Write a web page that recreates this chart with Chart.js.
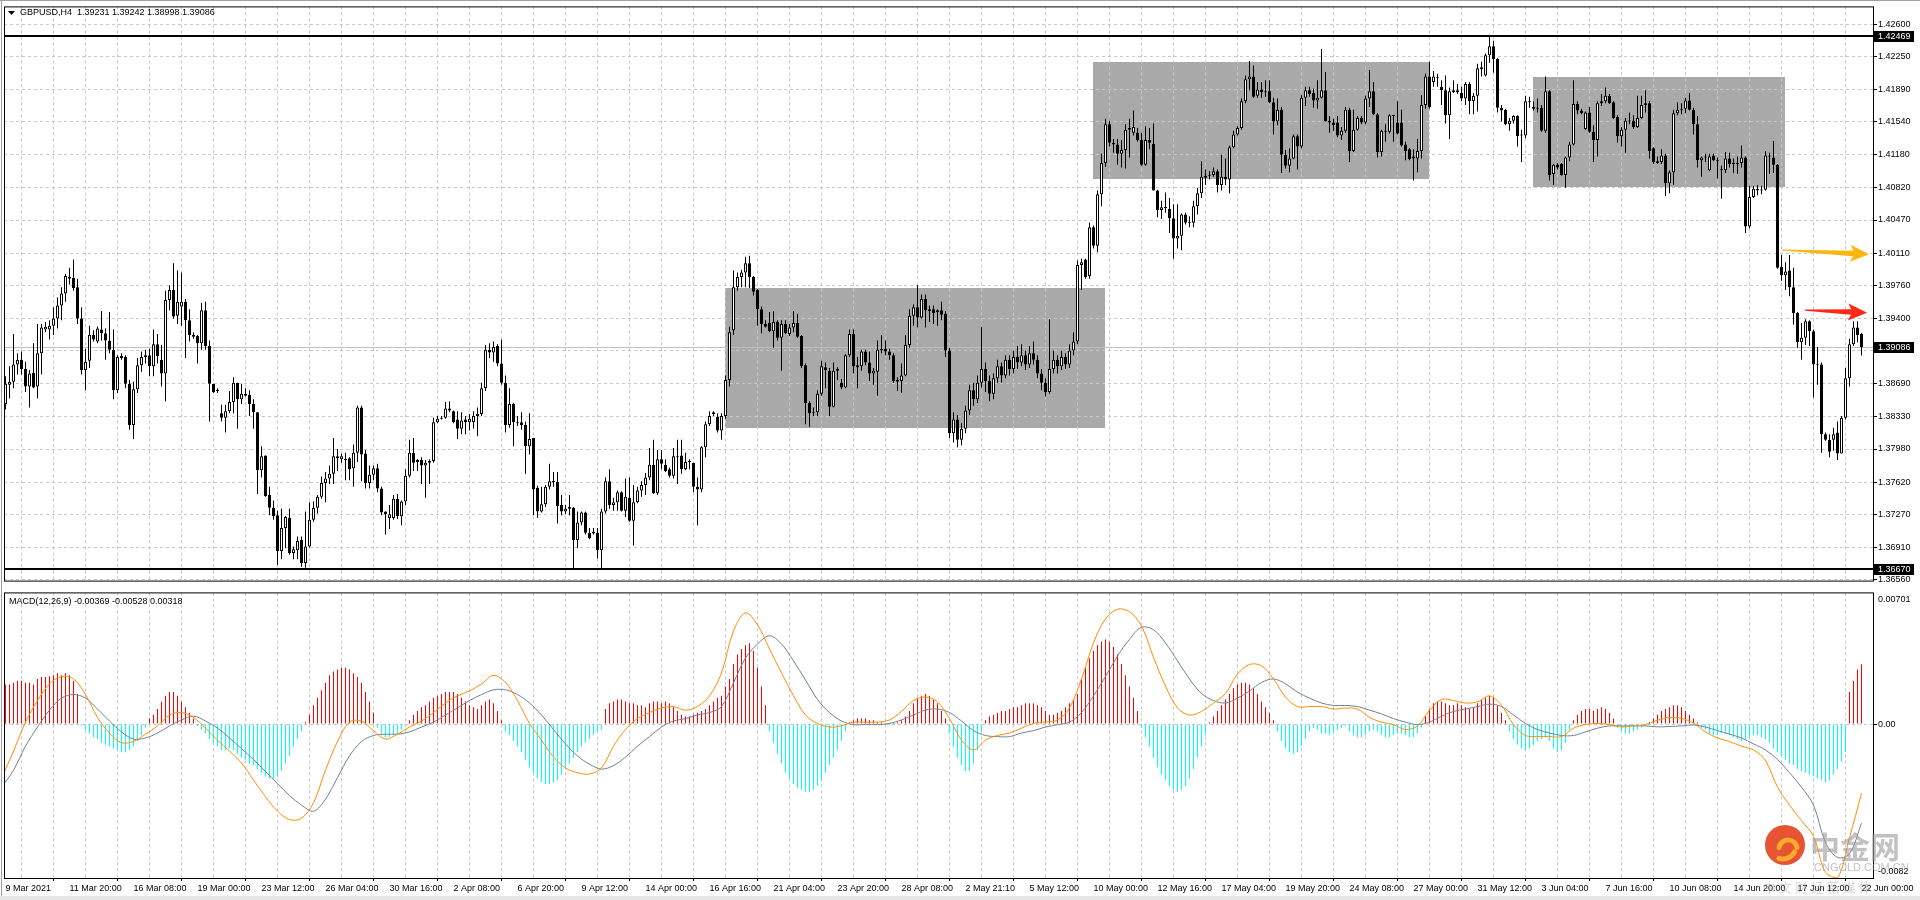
<!DOCTYPE html>
<html>
<head>
<meta charset="utf-8">
<title>GBPUSD,H4</title>
<script src="https://cdn.jsdelivr.net/npm/chart.js@4.4.1/dist/chart.umd.min.js"></script>
<style>
  html, body { margin: 0; padding: 0; background: #ffffff; }
  #frame { position: relative; width: 1920px; height: 900px; overflow: hidden; background: #ffffff; }
  #frame canvas { position: absolute; left: 0; }
</style>
</head>
<body>
<div id="frame">
  <canvas id="priceChart" width="1920" height="587" style="top:0px"></canvas>
  <canvas id="macdChart" width="1920" height="314" style="top:586px"></canvas>
</div>
<script>
// H4 bars, prices in units of 0.0001
const opens = [
13884,13847,13868,13871,13890,13895,13885,13866,13881,13866,
13902,13928,13928,13932,13940,13954,13967,13983,13984,13974,
13940,13884,13894,13922,13915,13928,13924,13916,13906,13862,
13899,13898,13869,13824,13863,13889,13898,13900,13888,13912,
13895,13880,13960,13971,13943,13953,13958,13938,13922,13921,
13913,13949,13910,13869,13862,13837,13832,13839,13849,13870,
13852,13858,13857,13847,13838,13775,13791,13748,13734,13726,
13687,13712,13723,13685,13688,13699,13674,13692,13721,13734,
13746,13761,13766,13771,13790,13787,13787,13788,13777,13794,
13843,13793,13761,13770,13777,13755,13730,13723,13723,13744,
13725,13741,13769,13794,13784,13786,13780,13783,13785,13827,
13831,13832,13842,13839,13830,13820,13830,13827,13827,13834,
13836,13864,13906,13903,13910,13891,13870,13824,13847,13827,
13827,13824,13801,13810,13756,13730,13738,13757,13763,13762,
13737,13730,13733,13734,13699,13718,13729,13707,13708,13707,
13688,13730,13763,13737,13740,13751,13731,13745,13720,13740,
13753,13759,13767,13781,13750,13787,13781,13776,13769,13789,
13791,13776,13784,13783,13757,13754,13800,13825,13836,13833,
13818,13834,13873,13927,13974,13985,13990,14000,13985,13971,
13950,13934,13935,13926,13936,13919,13934,13923,13930,13935,
13921,13889,13848,13837,13838,13858,13887,13883,13844,13883,
13870,13865,13900,13923,13889,13888,13904,13892,13880,13882,
13905,13907,13904,13900,13873,13872,13878,13911,13943,13952,
13941,13961,13948,13950,13947,13949,13945,13905,13815,13830,
13808,13820,13840,13862,13852,13870,13885,13872,13858,13875,
13888,13878,13895,13885,13898,13892,13900,13890,13902,13895,
13880,13870,13860,13885,13895,13888,13898,13890,13905,13915,
13998,14004,13986,14039,14019,14075,14109,14151,14131,14129,
14119,14123,14145,14142,14142,14134,14107,14134,14130,14079,
14058,14060,14059,14049,14027,14030,14053,14045,14044,14062,
14076,14093,14095,14096,14100,14085,14094,14091,14126,14140,
14147,14176,14200,14203,14182,14189,14186,14187,14175,14154,
14167,14118,14106,14114,14138,14127,14180,14188,14185,14177,
14180,14188,14155,14153,14153,14139,14144,14167,14122,14145,
14158,14153,14179,14187,14162,14121,14143,14143,14160,14153,
14153,14129,14124,14116,14114,14122,14172,14203,14197,14201,
14192,14188,14161,14188,14188,14185,14179,14195,14176,14182,
14211,14204,14226,14236,14222,14169,14167,14151,14155,14160,
14140,14139,14176,14170,14169,14169,14144,14187,14097,14107,
14108,14096,14115,14129,14173,14166,14146,14164,14143,14134,
14174,14176,14182,14175,14159,14138,14145,14154,14155,14148,
14158,14172,14174,14125,14111,14110,14117,14087,14099,14163,
14167,14168,14177,14167,14151,14112,14115,14101,14117,14112,
14102,14101,14114,14109,14108,14109,14115,14040,14072,14081,
14080,14080,14117,14115,14107,13996,13987,13992,13974,13946,
13914,13919,13937,13926,13890,13890,13814,13808,13808,13816,
13793,13832,13875,13912,13930,13923.1];
const highs = [
13886,13877,13888,13923,13902,13904,13893,13884,13913,13934,
13934,13936,13938,13952,13963,13974,13988,13995,14004,13983,
13952,13907,13932,13927,13931,13948,13929,13947,13928,13900,
13902,13900,13873,13871,13897,13904,13906,13907,13928,13923,
13911,13970,13976,14000,13992,13990,13961,13950,13925,13922,
13957,13958,13916,13869,13864,13846,13846,13861,13876,13870,
13869,13864,13862,13852,13838,13801,13791,13757,13742,13731,
13733,13725,13733,13692,13703,13703,13730,13740,13741,13748,
13768,13773,13780,13810,13798,13793,13794,13789,13803,13845,
13845,13797,13780,13780,13782,13757,13730,13737,13748,13749,
13742,13776,13808,13810,13787,13789,13786,13787,13832,13834,
13834,13849,13850,13840,13839,13838,13834,13836,13839,13843,
13870,13911,13913,13915,13912,13917,13878,13864,13848,13834,
13838,13828,13837,13810,13758,13757,13759,13782,13773,13773,
13748,13737,13748,13735,13730,13730,13730,13712,13712,13712,
13733,13767,13776,13745,13753,13752,13766,13767,13759,13757,
13763,13772,13799,13808,13797,13797,13787,13778,13799,13808,
13808,13794,13787,13783,13767,13801,13828,13839,13839,13837,
13837,13878,13931,13992,13990,13993,14007,14008,13986,13972,
13953,13938,13947,13948,13938,13938,13938,13934,13948,13945,
13922,13891,13850,13843,13862,13894,13892,13886,13892,13887,
13874,13901,13928,13928,13898,13906,13906,13904,13886,13916,
13922,13916,13907,13902,13876,13891,13922,13950,13955,13976,
13966,13966,13954,13954,13950,13958,13948,13908,13838,13835,
13826,13845,13868,13870,13878,13931,13892,13878,13880,13895,
13892,13900,13900,13905,13910,13912,13905,13910,13915,13900,
13885,13875,13939,13905,13900,13905,13902,13912,13925,14003,
14005,14005,14044,14041,14079,14119,14157,14155,14135,14135,
14134,14151,14157,14166,14147,14142,14149,14147,14152,14080,
14068,14077,14071,14064,14064,14054,14055,14051,14068,14082,
14111,14102,14100,14104,14102,14118,14114,14128,14144,14149,
14179,14204,14220,14215,14197,14197,14199,14199,14180,14179,
14170,14123,14125,14140,14140,14183,14192,14192,14190,14199,
14233,14208,14160,14157,14160,14148,14170,14169,14167,14160,
14160,14182,14210,14197,14163,14145,14151,14162,14161,14176,
14167,14132,14125,14124,14135,14183,14206,14219,14209,14206,
14199,14204,14191,14199,14195,14192,14197,14197,14185,14217,
14219,14228,14248,14242,14223,14172,14168,14158,14161,14161,
14145,14182,14181,14176,14179,14172,14203,14188,14108,14109,
14109,14116,14132,14199,14176,14168,14165,14170,14150,14176,
14184,14191,14184,14176,14161,14148,14158,14164,14161,14182,
14182,14188,14176,14126,14116,14124,14119,14101,14167,14175,
14174,14180,14185,14169,14160,14116,14119,14119,14119,14115,
14106,14121,14120,14114,14116,14128,14116,14084,14084,14085,
14084,14122,14120,14133,14108,14009,14001,14009,13995,13947,
13935,13939,13938,13928,13909,13892,13816,13814,13821,13828,
13834,13886,13918,13937,13937,13924.2];
const lows = [
13820,13841,13853,13864,13879,13879,13860,13843,13864,13853,
13879,13925,13917,13922,13929,13938,13958,13977,13970,13934,
13879,13862,13886,13915,13913,13916,13895,13902,13852,13859,
13895,13864,13819,13809,13859,13882,13891,13877,13877,13891,
13866,13850,13949,13940,13934,13932,13897,13915,13918,13891,
13906,13906,13828,13859,13859,13828,13816,13837,13837,13820,
13847,13855,13834,13820,13749,13767,13746,13726,13721,13672,
13678,13690,13683,13678,13678,13670,13669,13691,13719,13728,
13744,13740,13760,13760,13774,13783,13764,13764,13757,13784,
13763,13755,13755,13764,13751,13726,13705,13711,13721,13722,
13715,13737,13767,13774,13774,13760,13745,13760,13783,13826,
13830,13831,13838,13826,13809,13814,13814,13818,13820,13812,
13834,13861,13897,13893,13888,13868,13816,13821,13801,13823,
13819,13771,13792,13726,13723,13729,13735,13754,13757,13717,
13726,13727,13726,13667,13690,13715,13705,13700,13705,13679,
13667,13728,13733,13731,13731,13730,13724,13719,13693,13739,
13746,13748,13764,13749,13748,13776,13773,13767,13766,13760,
13771,13775,13776,13751,13715,13751,13789,13823,13834,13816,
13808,13831,13866,13922,13970,13974,13974,13973,13965,13932,
13924,13930,13925,13908,13916,13883,13923,13921,13925,13919,
13886,13825,13822,13834,13834,13856,13864,13834,13843,13873,
13863,13864,13898,13880,13864,13883,13889,13872,13868,13856,
13902,13900,13895,13870,13861,13859,13877,13908,13932,13930,
13940,13930,13936,13934,13932,13938,13898,13810,13805,13800,
13802,13815,13835,13845,13848,13865,13860,13850,13852,13870,
13870,13875,13878,13880,13885,13888,13884,13886,13890,13875,
13862,13855,13858,13880,13880,13884,13885,13886,13900,13912,
13971,13983,13983,14016,14012,14062,14105,14127,14120,14107,
14104,14103,14115,14139,14132,14106,14106,14124,14079,14050,
14048,14055,14033,14005,14016,14014,14042,14039,14039,14053,
14071,14085,14091,14094,14077,14079,14085,14076,14125,14139,
14145,14174,14188,14180,14180,14180,14181,14174,14140,14150,
14098,14103,14099,14113,14102,14125,14171,14181,14169,14168,
14179,14154,14142,14144,14137,14134,14142,14110,14121,14144,
14151,14151,14170,14161,14115,14116,14132,14141,14132,14140,
14127,14112,14112,14090,14099,14114,14168,14168,14192,14192,
14172,14152,14135,14185,14184,14176,14172,14162,14162,14165,
14203,14203,14218,14207,14164,14154,14150,14144,14152,14127,
14110,14136,14169,14166,14164,14143,14142,14090,14085,14102,
14095,14082,14111,14128,14162,14162,14145,14142,14110,14116,
14171,14174,14173,14157,14131,14127,14120,14151,14146,14147,
14157,14164,14114,14108,14108,14108,14073,14076,14085,14161,
14162,14163,14166,14140,14104,14094,14110,14100,14111,14092,
14070,14098,14104,14098,14097,14104,14033,14038,14071,14074,
14075,14079,14097,14098,13994,13981,13971,13964,13933,13908,
13895,13911,13910,13854,13868,13794,13807,13789,13796,13786,
13793,13830,13866,13910,13914,13899.8];
const closes = [
13824,13869,13871,13890,13895,13885,13866,13880,13865,13902,
13930,13931,13932,13940,13954,13967,13986,13985,13973,13940,
13884,13893,13922,13917,13929,13924,13916,13906,13862,13898,
13897,13869,13824,13863,13889,13898,13900,13888,13912,13899,
13880,13960,13971,13942,13958,13958,13938,13922,13920,13913,
13949,13910,13869,13860,13861,13832,13839,13849,13870,13852,
13858,13856,13847,13838,13775,13790,13747,13734,13725,13687,
13712,13724,13685,13689,13698,13674,13692,13721,13734,13746,
13761,13766,13771,13790,13788,13790,13786,13776,13794,13843,
13792,13761,13770,13777,13755,13729,13727,13727,13744,13725,
13741,13769,13794,13783,13786,13780,13783,13785,13827,13831,
13832,13842,13840,13827,13820,13829,13827,13831,13834,13836,
13864,13906,13903,13909,13891,13870,13824,13847,13827,13826,
13824,13801,13809,13754,13730,13738,13757,13763,13762,13736,
13730,13733,13735,13699,13718,13729,13707,13701,13706,13688,
13730,13763,13737,13740,13751,13731,13746,13720,13740,13753,
13759,13767,13781,13750,13787,13782,13774,13769,13790,13790,
13776,13784,13785,13757,13754,13800,13825,13834,13838,13818,
13834,13873,13925,13974,13985,13990,14000,13985,13969,13950,
13934,13931,13926,13936,13919,13934,13924,13930,13935,13920,
13888,13848,13837,13838,13858,13888,13884,13844,13883,13885,
13865,13900,13923,13888,13887,13904,13892,13880,13883,13906,
13907,13904,13900,13872,13871,13878,13911,13943,13952,13941,
13961,13949,13950,13946,13949,13944,13905,13815,13830,13808,
13820,13840,13862,13852,13870,13885,13872,13858,13875,13888,
13878,13895,13885,13898,13892,13900,13890,13902,13895,13880,
13870,13860,13885,13895,13888,13898,13890,13905,13915,13998,
14001,13985,14039,14019,14075,14109,14151,14131,14129,14119,
14123,14145,14147,14148,14134,14107,14134,14131,14079,14058,
14061,14060,14049,14027,14030,14053,14044,14044,14062,14076,
14094,14095,14096,14100,14085,14094,14091,14126,14140,14147,
14176,14200,14203,14181,14189,14186,14187,14175,14154,14167,
14118,14106,14114,14138,14127,14180,14188,14184,14177,14180,
14188,14154,14153,14150,14139,14144,14167,14122,14145,14158,
14153,14179,14187,14162,14121,14144,14143,14161,14161,14141,
14128,14122,14113,14114,14122,14172,14203,14170,14203,14202,
14188,14161,14187,14186,14186,14179,14195,14176,14182,14212,
14213,14226,14236,14222,14169,14166,14151,14155,14160,14138,
14139,14176,14175,14168,14168,14144,14187,14096,14107,14104,
14096,14115,14129,14173,14166,14163,14164,14143,14134,14174,
14176,14182,14174,14158,14138,14145,14155,14155,14148,14158,
14172,14174,14122,14110,14109,14117,14087,14099,14163,14167,
14168,14177,14167,14151,14112,14115,14115,14116,14112,14111,
14101,14114,14108,14108,14109,14115,14040,14072,14081,14079,
14079,14117,14116,14107,13995,13987,13991,13974,13946,13914,
13919,13937,13926,13890,13889,13814,13808,13795,13814,13793,
13832,13875,13912,13930,13922,13908.6];

// price axis labels
const priceTicks = [1.36560, 1.36910, 1.37270, 1.37620, 1.37980, 1.38330, 1.38690, 1.39050, 1.39400,
  1.39760, 1.40110, 1.40470, 1.40820, 1.41180, 1.41540, 1.41890, 1.42250, 1.42600];
// time axis labels, one every 16 bars from bar 1
const dateLabels = ['9 Mar 2021', '11 Mar 20:00', '16 Mar 08:00', '19 Mar 00:00', '23 Mar 12:00', '26 Mar 04:00',
  '30 Mar 16:00', '2 Apr 08:00', '6 Apr 20:00', '9 Apr 12:00', '14 Apr 00:00', '16 Apr 16:00', '21 Apr 04:00',
  '23 Apr 20:00', '28 Apr 08:00', '2 May 21:10', '5 May 12:00', '10 May 00:00', '12 May 16:00', '17 May 04:00',
  '19 May 20:00', '24 May 08:00', '27 May 00:00', '31 May 12:00', '3 Jun 04:00', '7 Jun 16:00', '10 Jun 08:00',
  '14 Jun 20:00', '17 Jun 12:00', '22 Jun 00:00'];

// drawn objects: rectangles (bar index / price), horizontal lines, arrows
const boxStart = [180.9, 272.9, 382.9];
const boxEnd = [275.9, 356.9, 445.9];
const boxTop = [1.39735, 1.42190, 1.42028];
const boxBottom = [1.38218, 1.40920, 1.40833];
const hLines = [1.42469, 1.36670];
const lastPrice = 1.39086;
const arrowFromBar = [445.1, 450.9];
const arrowToBar = [466.9, 466.4];
const arrowFromPrice = [1.40144, 1.39490];
const arrowToPrice = [1.40098, 1.39462];
const arrowColors = ['#ffb70f', '#ff2a16'];

const titleText = 'GBPUSD,H4  1.39231 1.39242 1.38998 1.39086';
const macdText = 'MACD(12,26,9) -0.00369 -0.00528 0.00318';

// MACD(12,26,9) window, units of 0.0001
// histogram, one value per bar
const macdHist = [
20,21,21,22,23,23,22,22,21,24,25,25,25.5,26,27,26,27,26,23,16,
-1,-3,-5,-7,-8,-10,-11,-12,-13,-14,-15,-15,-14,-12,-9,-6,-2,
3,5,8,12,15,17,17,15,12,9,6,3,
-1,-3,-5,-8,-10,-12,-14,-14,-13,-14,-16,-18,-19,-21,-22,-24,-26,-28,-29,-29,-28,-25,-21,-17,-12,-8,-4,
1,5,10,14,18,22,26,28,29,30,30,29,27,25,22,17,12,6,
-2,-5,-7,-7,-6,-5,-3,-1,
2,5,7,9,10,12,14,15,16,17,17,17,16,14,12,10,9,8,10,12,13,11,7,2,
-4,-6,-9,-12,-15,-19,-23,-26,-29,-31,-32,-32,-31,-30,-27,-24,-21,-18,-15,-12,-10,-8,-6,-4,-3,
8,11,12,13,13,12,11,11,10,10,9,11,12,12,11,12,11,9,7,5,4,4,5,6,7,8,10,12,14,15,
20,24,32,37,40,42,43,39,30,20,10,
-4,-10,-16,-21,-26,-29,-32,-34,-35,-36,-36,-35,-33,-30,-26,-22,-18,-14,-9,-4,
1,2,3,3,3,2,2,1,1,0.5,-0.5,0.5,1,2,4,7,
11,14,15,16,15,13,11,7,3,
-5,-12,-18,-22,-25,-25,-21,-14,
-4,2,4,5,6,7,7,8,9,9,10,11,11,11,10,9,7,5,5,6,7,9,11,13,16,
24,30,35,39,42,44,45,44,41,37,32,26,20,14,7,
-2,-7,-12,-18,-23,-27,-30,-33,-35,-36,-35,-33,-29,-24,-18,-12,-6,
1,4,7,10,13,16,19,21,22,22,21,19,16,12,9,6,2,
-4,-9,-13,-15,-16,-15,-12,-8,-4,
-2,-3,-5,-5,-6,-5,-3,-2,-1,
-4,-6,-7,-7,-6,-4,-3,-4,-6,-7,-7,-6,-5,-5,-6,-7,-7,-5,-2,
4,8,11,12,12,11,10,10,11,10,9,8,9,11,13,14,15,14,10,6,2,
-4,-8,-11,-13,-14,-13,-11,-9,-8,-7,-9,-13,-15,-14,-10,
-3,2,5,7,8,8,7,8,9,8,6,3,
-2,-4,-5,-5,-4,-3,-2,-1,1,3,
5,7,8,9,10,10,9,7,5,3,1,
-2,-3,-5,-6,-6,-5,-5,-6,-7,-8,-9,-8,-7,-6,-6,-7,-8,-10,
-13,-15,-17,-19,-21,-22,-24,-25,-26,-27,-28,-29,-30,-31,-30,-27,-24,-20,-15,
17,23,29,31.8];
// main and signal lines, read every 3rd bar (bars 0, 3, 6 ... 465)
const macdMain = [
-29.1,-14.4,1.0,12.5,21.4,25.3,24.0,15.7,3.5,-4.8,
-9.9,-9.3,-5.4,-1.0,4.8,6.1,3.5,-2.2,-8.6,-14.4,
-20.8,-29.8,-38.7,-46.4,-50.9,-50.2,-41.9,-24.6,-9.3,1.0,
1.6,-3.5,-8.0,-5.4,-1.6,1.6,6.1,11.2,15.0,17.6,
21.4,25.9,22.1,12.5,0.3,-8.6,-17.6,-23.4,-25.9,-26.6,
-23.4,-11.8,-2.9,2.9,6.1,8.6,9.3,7.4,9.3,15.0,
27.2,49.6,59.2,52.8,40.0,27.2,15.0,4.8,0.3,-1.6,
-1.0,1.0,1.0,1.0,2.2,6.7,12.5,14.4,11.8,2.9,
-8.6,-13.8,-8.6,-6.1,-4.8,-2.2,0.3,1.0,2.2,8.6,
24.0,43.2,56.0,61.1,59.8,52.2,35.5,20.2,8.6,4.8,
6.7,11.2,16.3,26.6,31.7,31.0,24.0,14.4,9.3,9.3,
9.3,8.0,8.5,8.0,3.5,1.0,-0.3,-2.9,-1.0,7.4,
13.1,12.5,11.2,11.8,15.0,10.0,-0.3,-6.1,-6.7,-6.7,
-6.7,-2.2,-0.3,0.3,-0.3,-1.6,-1.0,-0.3,2.0,3.5,
3.0,0.5,-4.2,-7.4,-9.3,-11.8,-13.8,-19.5,-33.6,-43.2,
-51.5,-59.8,-79.0,-82.0,-60.5,-36.9];
const macdSignal = [
-33.6,-24.6,-11.8,-1.6,7.4,13.8,15.7,13.8,8.0,1.6,
-4.2,-8.0,-7.4,-4.8,-1.0,2.2,4.2,1.6,-2.2,-7.4,
-13.1,-18.9,-25.3,-31.7,-38.1,-43.2,-46.4,-40.0,-28.5,-17.0,
-9.3,-6.1,-5.4,-5.4,-4.2,-1.6,1.0,4.8,8.6,12.5,
15.7,18.2,18.2,15.7,11.2,4.8,-2.9,-10.6,-17.0,-21.4,
-24.0,-22.1,-17.6,-11.8,-6.7,-1.6,1.6,2.9,4.8,6.1,
9.3,22.0,35.2,42.6,47.0,42.6,33.6,23.4,13.1,6.1,
1.6,-0.3,-0.3,-0.3,0.3,2.2,4.8,7.4,8.0,6.1,
1.6,-3.5,-6.1,-6.7,-6.7,-4.8,-3.5,-1.6,-0.3,1.0,
6.1,15.0,25.3,36.2,45.1,51.5,50.2,43.2,33.6,24.0,
16.3,12.5,11.2,13.8,17.6,22.1,24.0,21.4,17.0,13.8,
11.2,9.9,9.9,9.3,7.4,5.4,2.9,1.0,-0.3,1.0,
4.2,6.7,8.0,9.3,10.6,9.3,4.8,0.3,-2.9,-4.8,
-6.1,-6.1,-4.2,-2.2,-1.0,-1.0,-1.0,-1.0,-1.5,-1.3,
-1.0,-0.5,-1.6,-3.5,-5.4,-7.4,-10.6,-13.8,-18.9,-25.9,
-33.6,-43.2,-63.0,-71.0,-69.0,-52.8];
const macdAxisLabels = ['0.00701', '0.00', '-0.0082'];

const PIP = 10000;
const FONT = '"Liberation Sans", Arial, sans-serif';
const barIdx = opens.map((_, i) => i);
const lineBars = macdMain.map((_, k) => 3 * k);
const gridBars = [];
dateLabels.forEach((_, k) => { gridBars.push(1 + 16 * k); if (k < dateLabels.length - 1) gridBars.push(9 + 16 * k); });
gridBars.sort((a, b) => a - b);
const isLabelBar = v => Number.isInteger((v - 1) / 16);

function drawArrow(ctx, x0, y0, x1, y1, color) {
  const len = Math.hypot(x1 - x0, y1 - y0);
  const ang = Math.atan2(y1 - y0, x1 - x0);
  ctx.save();
  ctx.translate(x0, y0);
  ctx.rotate(ang);
  ctx.beginPath();
  ctx.moveTo(0, -0.6);
  ctx.lineTo(len - 16, -2.8);
  ctx.lineTo(len - 19, -8.5);
  ctx.lineTo(len, 0);
  ctx.lineTo(len - 19, 8.5);
  ctx.lineTo(len - 16, 2.8);
  ctx.lineTo(0, 0.6);
  ctx.closePath();
  ctx.fillStyle = color;
  ctx.fill();
  ctx.restore();
}

const priceObjects = {
  id: 'priceObjects',
  beforeDraw(chart) {
    const { ctx, scales: { x, y } } = chart;
    ctx.save();
    ctx.fillStyle = '#a9a9a9';
    for (let k = 0; k < boxStart.length; k++) {
      const x0 = x.getPixelForValue(boxStart[k]), x1 = x.getPixelForValue(boxEnd[k]);
      const y0 = y.getPixelForValue(boxTop[k]), y1 = y.getPixelForValue(boxBottom[k]);
      ctx.fillRect(Math.round(x0), Math.round(y0), Math.round(x1 - x0), Math.round(y1 - y0));
    }
    ctx.restore();
  },
  beforeDatasetsDraw(chart) {
    const { ctx, chartArea: a, scales: { y } } = chart;
    const py = Math.round(y.getPixelForValue(lastPrice)) + 0.5;
    ctx.save();
    ctx.strokeStyle = '#c0c0c0';
    ctx.lineWidth = 1;
    ctx.beginPath(); ctx.moveTo(a.left, py); ctx.lineTo(a.right, py); ctx.stroke();
    ctx.restore();
  },
  afterDatasetsDraw(chart) {
    const { ctx, chartArea: a, scales: { y } } = chart;
    ctx.save();
    ctx.strokeStyle = '#000000';
    ctx.lineWidth = 2;
    hLines.forEach(p => {
      const py = Math.round(y.getPixelForValue(p));
      ctx.beginPath(); ctx.moveTo(a.left, py); ctx.lineTo(a.right, py); ctx.stroke();
    });
    ctx.restore();
  },
  afterDraw(chart) {
    const { ctx, chartArea: a, scales: { x, y } } = chart;
    ctx.save();
    for (let k = 0; k < arrowColors.length; k++) {
      drawArrow(ctx, x.getPixelForValue(arrowFromBar[k]), y.getPixelForValue(arrowFromPrice[k]),
        x.getPixelForValue(arrowToBar[k]), y.getPixelForValue(arrowToPrice[k]), arrowColors[k]);
    }
    ctx.strokeStyle = '#000000';
    ctx.lineWidth = 1;
    ctx.strokeRect(a.left + 0.5, a.top + 0.5, a.right - a.left, a.bottom - a.top);
    // price boxes on the axis
    ctx.font = '9px ' + FONT;
    ctx.textBaseline = 'middle';
    [...hLines, lastPrice].forEach(p => {
      const py = Math.round(y.getPixelForValue(p));
      ctx.fillStyle = '#000000';
      ctx.fillRect(a.right + 1, py - 5, 40, 11);
      ctx.fillStyle = '#ffffff';
      ctx.fillText(p.toFixed(5), a.right + 5, py + 0.5);
    });
    // title
    ctx.fillStyle = '#000000';
    ctx.beginPath(); ctx.moveTo(8, 11); ctx.lineTo(15, 11); ctx.lineTo(11.5, 15); ctx.closePath(); ctx.fill();
    ctx.fillText(titleText, 20, 13);
    // window edge
    ctx.fillStyle = '#a0a0a0';
    ctx.fillRect(0, 0, 1920, 1);
    ctx.fillRect(1, 0, 1, 587);
    ctx.restore();
  }
};

const macdObjects = {
  id: 'macdObjects',
  afterDraw(chart) {
    const { ctx, chartArea: a } = chart;
    ctx.save();
    ctx.strokeStyle = '#000000';
    ctx.lineWidth = 1;
    ctx.strokeRect(a.left + 0.5, a.top + 0.5, a.right - a.left, a.bottom - a.top);
    ctx.font = '9px ' + FONT;
    ctx.textBaseline = 'middle';
    ctx.fillStyle = '#000000';
    ctx.fillText(macdText, 9, a.top + 9);
    ctx.fillStyle = '#a0a0a0';
    ctx.fillRect(1, 0, 1, 314);
    ctx.fillStyle = '#e6e6e6';
    ctx.fillRect(0, 310, 1920, 4);
    // watermark
    const cx = 1785, cy = 259, r = 20;
    ctx.globalAlpha = 0.9;
    ctx.fillStyle = '#e4401d';
    ctx.beginPath(); ctx.arc(cx, cy, r, 0, Math.PI * 2); ctx.fill();
    ctx.strokeStyle = '#fbb52a';
    ctx.lineWidth = 5;
    ctx.lineCap = 'round';
    ctx.beginPath(); ctx.arc(cx + 3, cy + 4, 9, Math.PI * 1.05, Math.PI * 1.95); ctx.stroke();
    ctx.beginPath(); ctx.arc(cx - 2, cy + 1, 13, Math.PI * 0.15, Math.PI * 0.6); ctx.stroke();
    ctx.globalAlpha = 0.6;
    ctx.fillStyle = '#9a9a9a';
    ctx.font = 'bold 30px "Noto Sans CJK SC"';
    ctx.textBaseline = 'alphabetic';
    ctx.fillText('中金网', 1810, 272);
    ctx.font = '11px ' + FONT;
    ctx.textBaseline = 'middle';
    ctx.fillText('CNGOLD.COM.CN', 1814, 282);
    ctx.globalAlpha = 0.4;
    ctx.font = '13px "Noto Sans CJK SC"';
    ctx.fillText('中 文 财 经 新 媒 体', 1763, 301);
    ctx.restore();
  }
};

const xBase = { type: 'linear', min: 0.625, max: 467.875, offset: false };

new Chart(document.getElementById('priceChart'), {
  type: 'bar',
  data: {
    datasets: [
      { label: 'wick', data: barIdx.map(i => ({ x: i, y: [lows[i] / PIP, highs[i] / PIP] })),
        backgroundColor: '#000000', barThickness: 1, grouped: false, minBarLength: 1, order: 2, inflateAmount: 0 },
      { label: 'body', data: barIdx.map(i => ({ x: i, y: [opens[i] / PIP, closes[i] / PIP] })),
        backgroundColor: barIdx.map(i => closes[i] >= opens[i] ? '#ffffff' : '#000000'),
        borderColor: '#000000', borderWidth: 1, borderSkipped: false, barThickness: 3,
        grouped: false, minBarLength: 1, order: 1, inflateAmount: 0 }
    ]
  },
  options: {
    responsive: false, animation: false, events: [],
    layout: { padding: { left: 4, top: 4, right: 0, bottom: 3 } },
    plugins: { legend: { display: false }, tooltip: { enabled: false } },
    scales: {
      x: { ...xBase,
        afterBuildTicks: s => { s.ticks = gridBars.map(v => ({ value: v })); },
        afterFit: s => { s.height = 0; },
        ticks: { display: false },
        grid: { color: '#c8c8c8', drawTicks: false },
        border: { display: false, dash: [3, 3] } },
      y: { type: 'linear', position: 'right', min: 1.365492, max: 1.427925,
        afterBuildTicks: s => { s.ticks = priceTicks.map(v => ({ value: v })); },
        afterFit: s => { s.width = 47; },
        ticks: { autoSkip: false, padding: 1, color: '#000000', font: { family: FONT, size: 9 },
          callback: v => v.toFixed(5) },
        grid: { color: '#c8c8c8', tickColor: '#000000', tickLength: 4, drawTicks: true },
        border: { display: false, dash: [3, 3] } }
    }
  },
  plugins: [priceObjects]
});

const macdTickPos = [0.00701 - 0.000366, 0, -0.0082 + 0.000366];

new Chart(document.getElementById('macdChart'), {
  type: 'bar',
  data: {
    datasets: [
      { type: 'line', data: lineBars.map((b, k) => ({ x: b, y: macdMain[k] / PIP })),
        borderColor: '#ff8c00', borderWidth: 1, pointRadius: 0, tension: 0.35, order: 1 },
      { type: 'line', data: lineBars.map((b, k) => ({ x: b, y: macdSignal[k] / PIP })),
        borderColor: '#708090', borderWidth: 1, pointRadius: 0, tension: 0.35, order: 2 },
      { type: 'bar', data: macdHist.map((v, i) => ({ x: i, y: v / PIP })),
        backgroundColor: macdHist.map(v => v >= 0 ? '#ff0000' : '#00ffff'),
        barThickness: 1, grouped: false, order: 3, inflateAmount: 0 }
    ]
  },
  options: {
    responsive: false, animation: false, events: [],
    layout: { padding: { left: 4, top: 1, right: 0, bottom: 0 } },
    plugins: { legend: { display: false }, tooltip: { enabled: false } },
    scales: {
      x: { ...xBase,
        afterBuildTicks: s => { s.ticks = gridBars.map(v => ({ value: v })); },
        afterFit: s => { s.height = 22; },
        ticks: { autoSkip: false, maxRotation: 0, minRotation: 0, align: 'start', padding: 2,
          color: '#000000', font: { family: FONT, size: 9 },
          callback: v => isLabelBar(v) ? dateLabels[(v - 1) / 16] : '' },
        grid: { color: '#c8c8c8', drawTicks: true, tickLength: 3,
          tickColor: c => (c.tick && isLabelBar(c.tick.value)) ? '#000000' : 'rgba(0,0,0,0)' },
        border: { display: false, dash: [3, 3] } },
      y: { type: 'linear', position: 'right', min: -0.0082, max: 0.00701,
        afterBuildTicks: s => { s.ticks = macdTickPos.map(v => ({ value: v })); },
        afterFit: s => { s.width = 47; },
        ticks: { autoSkip: false, padding: 1, color: '#000000', font: { family: FONT, size: 9 },
          callback: (v, i) => macdAxisLabels[i] },
        grid: { color: c => (c.tick && c.tick.value === 0) ? '#c8c8c8' : 'rgba(0,0,0,0)',
          tickColor: c => (c.tick && c.tick.value === 0) ? '#000000' : 'rgba(0,0,0,0)', tickLength: 4 },
        border: { display: false, dash: [3, 3] } }
    }
  },
  plugins: [macdObjects]
});
</script>
</body>
</html>
